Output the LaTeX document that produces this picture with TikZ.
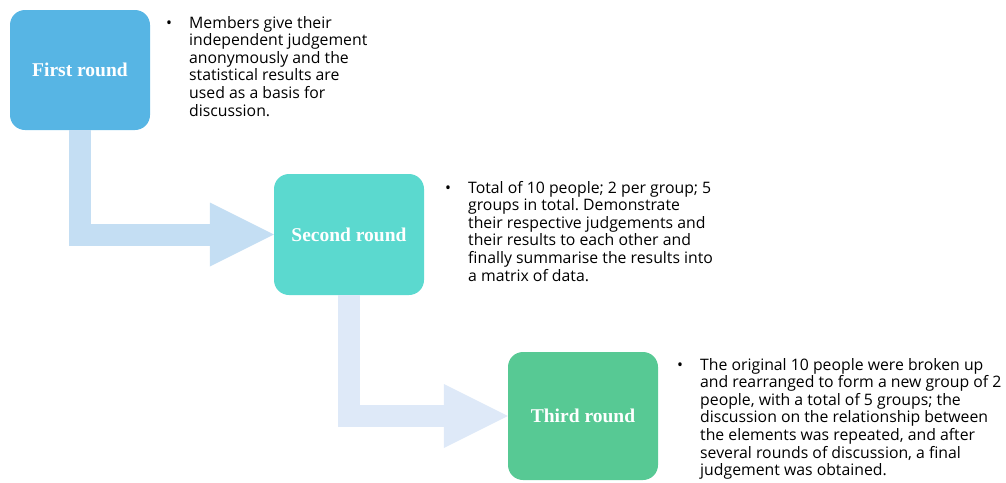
\documentclass[tikz,border=0pt]{standalone}
\usepackage{fontspec}
\setmainfont{Open Sans}
\newfontfamily\roundfont{Liberation Serif}
\usetikzlibrary{arrows.meta}
\definecolor{roundblue}{HTML}{57B5E4}
\definecolor{roundcyan}{HTML}{5BD9CF}
\definecolor{roundgreen}{HTML}{57C994}
\definecolor{flowblue}{HTML}{C4DEF3}
\definecolor{flowpale}{HTML}{DEE9F8}
\newcommand{\pointtext}[1]{\parbox[t]{340pt}{\frenchspacing\hangindent=23pt\hangafter=1\noindent\makebox[23pt][l]{\textbullet}#1}}

\begin{document}
\begin{tikzpicture}[x=1pt,y=-1pt,
  roundbox/.style={rounded corners=15pt,inner sep=0pt,text=white,font=\roundfont\bfseries\fontsize{19.5}{22}\selectfont},
  pointnote/.style={anchor=base west,inner sep=0pt,font=\fontsize{15.8}{17.6}\selectfont},
  flow/.style={line width=22pt,-{Triangle[length=64pt,width=64pt,line width=0pt]}}]
  \useasboundingbox (0,0) rectangle (1006,482);
  \node[roundbox,fill=roundblue,minimum width=140pt,minimum height=120pt] (first) at (80,70) {First round};
  \node[roundbox,fill=roundcyan,minimum width=150pt,minimum height=121pt] (second) at (349,234.5) {Second round};
  \node[roundbox,fill=roundgreen,minimum width=150pt,minimum height=128pt] (third) at (583,416) {Third round};
  \draw[flow,flowblue] (first.south) |- (second.west);
  \draw[flow,flowpale] (second.south) |- (third.west);
  \node[pointnote] (firstnote) at (166,28) {\pointtext{Members give their\\independent judgement\\anonymously and the\\statistical results are\\used as a basis for\\discussion.}};
  \node[pointnote] (secondnote) at (445,193) {\pointtext{Total of 10 people; 2 per group; 5\\groups in total. Demonstrate\\their respective judgements and\\their results to each other and\\finally summarise the results into\\a matrix of data.}};
  \node[pointnote] (thirdnote) at (677,370) {\pointtext{The original 10 people were broken up\\and rearranged to form a new group of 2\\people, with a total of 5 groups; the\\discussion on the relationship between\\the elements was repeated, and after\\several rounds of discussion, a final\\judgement was obtained.}};
\end{tikzpicture}
\end{document}
